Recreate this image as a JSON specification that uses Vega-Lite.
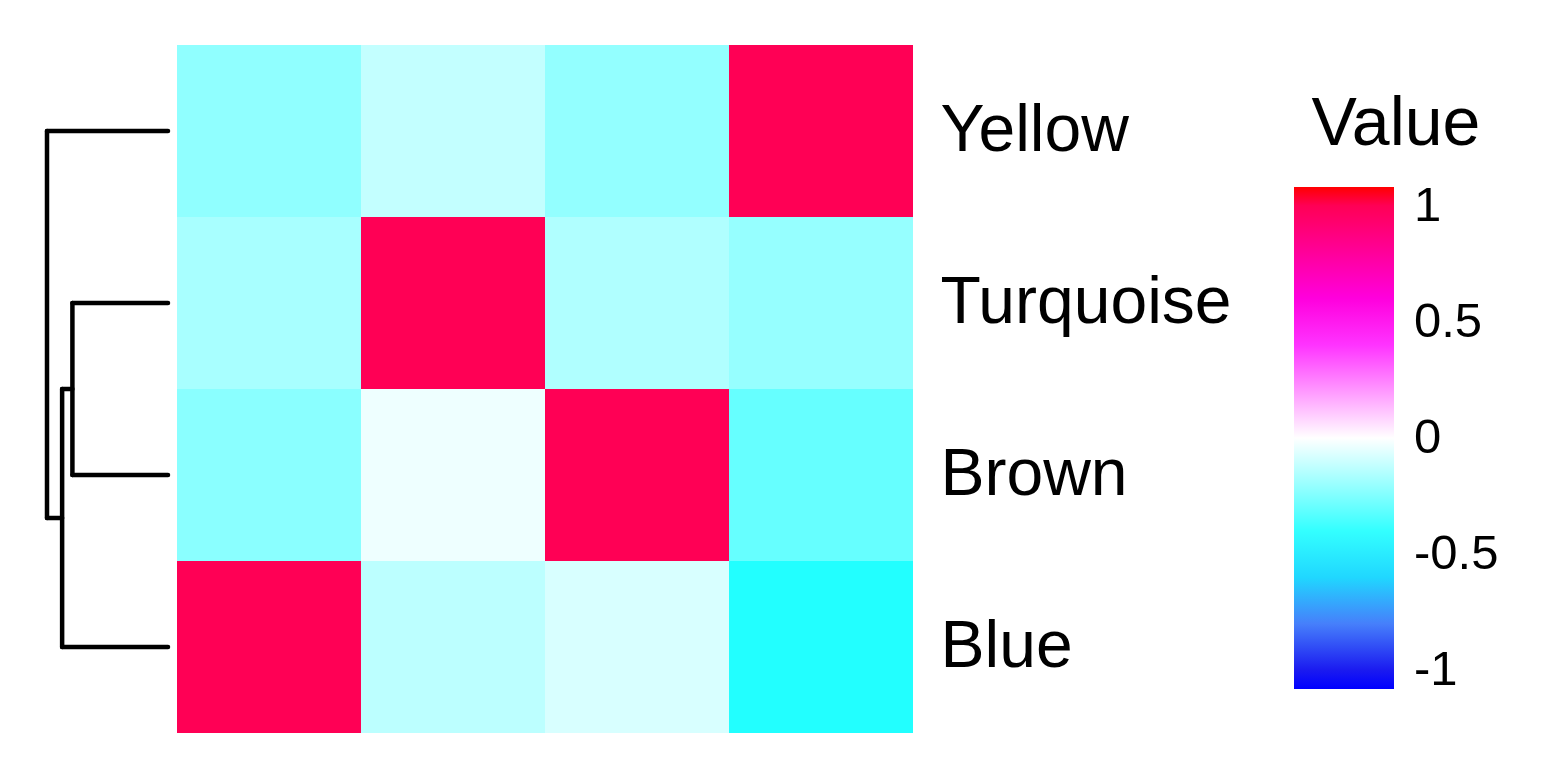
{
  "$schema": "https://vega.github.io/schema/vega-lite/v6.json",
  "padding": {"left": 44, "top": 45, "right": 0, "bottom": 0},
  "autosize": {"type": "pad"},
  "spacing": 6,
  "config": {"view": {"stroke": null}, "font": "Liberation Sans"},
  "hconcat": [
    {
      "width": 121,
      "height": 688,
      "data": {"values": [
        {"h1": 0, "h2": 1.0, "p1": 4, "p2": 4},
        {"h1": 0, "h2": 0.79, "p1": 3, "p2": 3},
        {"h1": 0, "h2": 0.79, "p1": 2, "p2": 2},
        {"h1": 0.79, "h2": 0.79, "p1": 2, "p2": 3},
        {"h1": 0.79, "h2": 0.875, "p1": 2.5, "p2": 2.5},
        {"h1": 0, "h2": 0.875, "p1": 1, "p2": 1},
        {"h1": 0.875, "h2": 0.875, "p1": 1, "p2": 2.5},
        {"h1": 0.875, "h2": 1.0, "p1": 1.75, "p2": 1.75},
        {"h1": 1.0, "h2": 1.0, "p1": 1.75, "p2": 4}
      ]},
      "mark": {"type": "rule", "strokeWidth": 4.5, "strokeCap": "round", "color": "black"},
      "encoding": {
        "x": {"field": "h1", "type": "quantitative", "scale": {"domain": [0, 1], "reverse": true}, "axis": null},
        "x2": {"field": "h2"},
        "y": {"field": "p1", "type": "quantitative", "scale": {"domain": [0.5, 4.5]}, "axis": null},
        "y2": {"field": "p2"}
      }
    },
    {
      "width": 736,
      "height": 688,
      "data": {"values": [
        {"row": "Yellow", "col": "Blue", "value": -0.218},
        {"row": "Yellow", "col": "Turquoise", "value": -0.118},
        {"row": "Yellow", "col": "Brown", "value": -0.212},
        {"row": "Yellow", "col": "Yellow", "value": 1},
        {"row": "Turquoise", "col": "Blue", "value": -0.171},
        {"row": "Turquoise", "col": "Turquoise", "value": 1},
        {"row": "Turquoise", "col": "Brown", "value": -0.155},
        {"row": "Turquoise", "col": "Yellow", "value": -0.206},
        {"row": "Brown", "col": "Blue", "value": -0.229},
        {"row": "Brown", "col": "Turquoise", "value": -0.033},
        {"row": "Brown", "col": "Brown", "value": 1},
        {"row": "Brown", "col": "Yellow", "value": -0.3},
        {"row": "Blue", "col": "Blue", "value": 1},
        {"row": "Blue", "col": "Turquoise", "value": -0.131},
        {"row": "Blue", "col": "Brown", "value": -0.076},
        {"row": "Blue", "col": "Yellow", "value": -0.433}
      ]},
      "mark": {"type": "rect"},
      "encoding": {
        "x": {"field": "col", "type": "nominal", "sort": ["Blue", "Turquoise", "Brown", "Yellow"], "axis": null, "scale": {"paddingInner": 0, "paddingOuter": 0}},
        "y": {"field": "row", "type": "nominal", "sort": ["Yellow", "Turquoise", "Brown", "Blue"], "scale": {"paddingInner": 0, "paddingOuter": 0},
          "axis": {"orient": "right", "title": null, "ticks": false, "domain": false, "labelFontSize": 66, "labelColor": "black", "labelPadding": 27, "labelFont": "Liberation Sans", "labelLimit": 0}},
        "color": {"field": "value", "type": "quantitative", "title": "Value",
          "scale": {"domain": [-1.08, -1, -0.95, -0.75, -0.5, 0, 0.5, 1, 1.08], "range": ["#0000ff", "#1a1af0", "#2a2aee", "#4f9cff", "#00ffff", "#ffffff", "#ff00ff", "#ff0055", "#ff0000"], "interpolate": "rgb"},
          "legend": {"values": [-1, -0.5, 0, 0.5, 1], "labelExpr": "toString(datum.value)", "gradientLength": 502, "gradientThickness": 100, "gradientStrokeWidth": 0,
            "titleFontSize": 68, "titleFontWeight": "normal", "titleColor": "black", "titleFont": "Liberation Sans", "titleAnchor": "middle", "titlePadding": 28, "titleLimit": 0,
            "labelFontSize": 49, "labelColor": "black", "labelFont": "Liberation Sans", "labelOffset": 20, "labelOverlap": false, "labelLimit": 0, "padding": 46, "offset": 16}}
      }
    }
  ]
}
